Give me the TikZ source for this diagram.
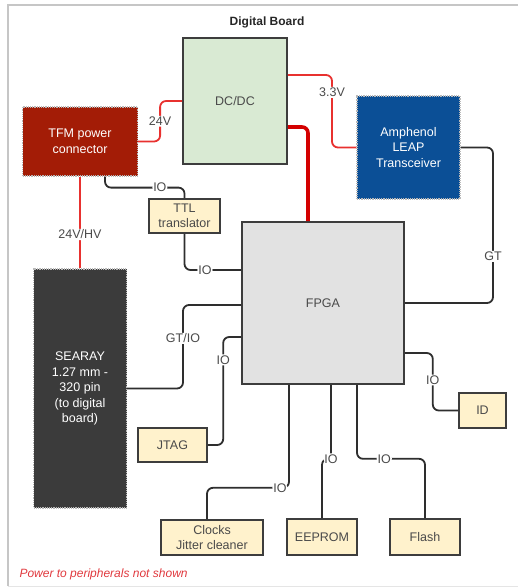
\documentclass[tikz,border=0pt]{standalone}
\usepackage{fontspec}
\setmainfont{Liberation Sans}
\usetikzlibrary{positioning}
\definecolor{bd}{HTML}{3D3D3D}
\definecolor{pale}{HTML}{FFF2CC}
\definecolor{dcg}{HTML}{D9EAD3}
\definecolor{fpg}{HTML}{E2E2E2}
\definecolor{tfmr}{HTML}{A31C06}
\definecolor{leap}{HTML}{0B4F96}
\definecolor{sea}{HTML}{3B3B3B}
\definecolor{ln}{HTML}{2E2E2E}
\definecolor{pr}{HTML}{E8312F}
\definecolor{prd}{HTML}{D40000}
\definecolor{tx}{HTML}{4A4A4A}
\definecolor{foot}{HTML}{E0393E}
\begin{document}
\begin{tikzpicture}[x=1pt,y=-1pt,font=\fontsize{12.5}{15.5}\selectfont,
 b/.style={draw=bd,line width=1.6pt,fill=pale,text=tx,align=center,inner sep=0pt},
 d/.style={draw=gray!55,densely dotted,line width=1.2pt,text=white,align=center,inner sep=0pt},
 l/.style={fill=white,text=tx,inner sep=1pt},
 io/.style={draw=ln,line width=1.8pt,rounded corners=6pt},
 pw/.style={draw=pr,line width=1.8pt,rounded corners=6pt}]
\useasboundingbox (0,0) rectangle (518,588);
\draw[gray!45,line width=1.5pt] (518,5) -- (8,5) -- (8,586);
\draw[gray!20,line width=1pt] (8,586) -- (518,586);
\node[font=\fontsize{12}{14}\selectfont\bfseries,text=black!85] (title) at (267,22) {Digital Board};
% blocks
\node[b,fill=dcg,minimum width=104pt,minimum height=126pt] (dc) at (235,101) {DC/DC};
\node[d,fill=tfmr,minimum width=115pt,minimum height=69pt] (tfm) at (80,141.5) {TFM power\\connector};
\node[d,fill=leap,minimum width=103pt,minimum height=103pt] (leap) at (408.5,147.5) {Amphenol\\LEAP\\Transceiver};
\node[b,minimum width=71pt,minimum height=34pt] (ttl) at (184.5,216) {TTL\\translator};
\node[b,fill=fpg,minimum width=162pt,minimum height=162pt] (fpga) at (323,303) {FPGA};
\node[d,fill=sea,minimum width=93pt,minimum height=239pt] (sea) at (80,388.5) {SEARAY\\1.27 mm -\\320 pin\\(to digital\\board)};
\node[b,minimum width=69pt,minimum height=34pt] (jtag) at (172.5,445) {JTAG};
\node[b,minimum width=47pt,minimum height=35pt] (id) at (482.5,410.5) {ID};
\node[b,minimum width=102pt,minimum height=35pt] (clk) at (212,537.5) {Clocks\\Jitter cleaner};
\node[b,minimum width=70pt,minimum height=36pt] (ee) at (322,537) {EEPROM};
\node[b,minimum width=70pt,minimum height=36pt] (fl) at (425,537) {Flash};
% power
\draw[pw] (tfm.east) -- ++(22,0) |- node[l,pos=0.25]{24V} (dc.west);
\draw[pw] (dc.east |- 0,75) -- (332,75) |- node[l,pos=0.12]{3.3V} (leap.west);
\draw[pw,draw=prd,line width=3.6pt] (dc.east |- 0,127) -| ([xshift=-15]fpga.north);
\draw[pw] (tfm.south) -- node[l,pos=0.63]{24V/HV} (tfm.south |- sea.north);
% signals
\draw[io] (leap.east) -- (493,147.5) |- node[l,pos=0.35]{GT} (fpga.east);
\draw[io] ([xshift=25]tfm.south) -- ++(0,11) -| node[l,pos=0.345]{IO} (ttl.north);
\draw[io] (ttl.south) |- node[l,pos=0.68]{IO} (fpga.west |- 0,270);
\draw[io] (sea.east) -- (183,388.5) |- node[l,pos=0.3]{GT/IO} (fpga.west |- 0,305);
\draw[io] (fpga.west |- 0,337) -- ++(-18,0) |- node[l,pos=0.106]{IO} (jtag.east);
\draw[io] (fpga.east |- 0,353) -- ++(28,0) |- node[l,pos=0.235]{IO} (id.west);
\draw[io] ([xshift=-34]fpga.south) -- ++(0,103) -| node[l,pos=0.055]{IO} ([xshift=-5]clk.north);
\draw[io] ([xshift=8]fpga.south) -- ++(0,74) node[l]{IO} -| (ee.north);
\draw[io] ([xshift=34]fpga.south) -- ++(0,74) -| node[l,pos=0.2]{IO} (fl.north);
\node[text=foot,font=\fontsize{12}{14}\selectfont\itshape,anchor=west] (note) at (16,574) {Power to peripherals not shown};
\end{tikzpicture}
\end{document}
